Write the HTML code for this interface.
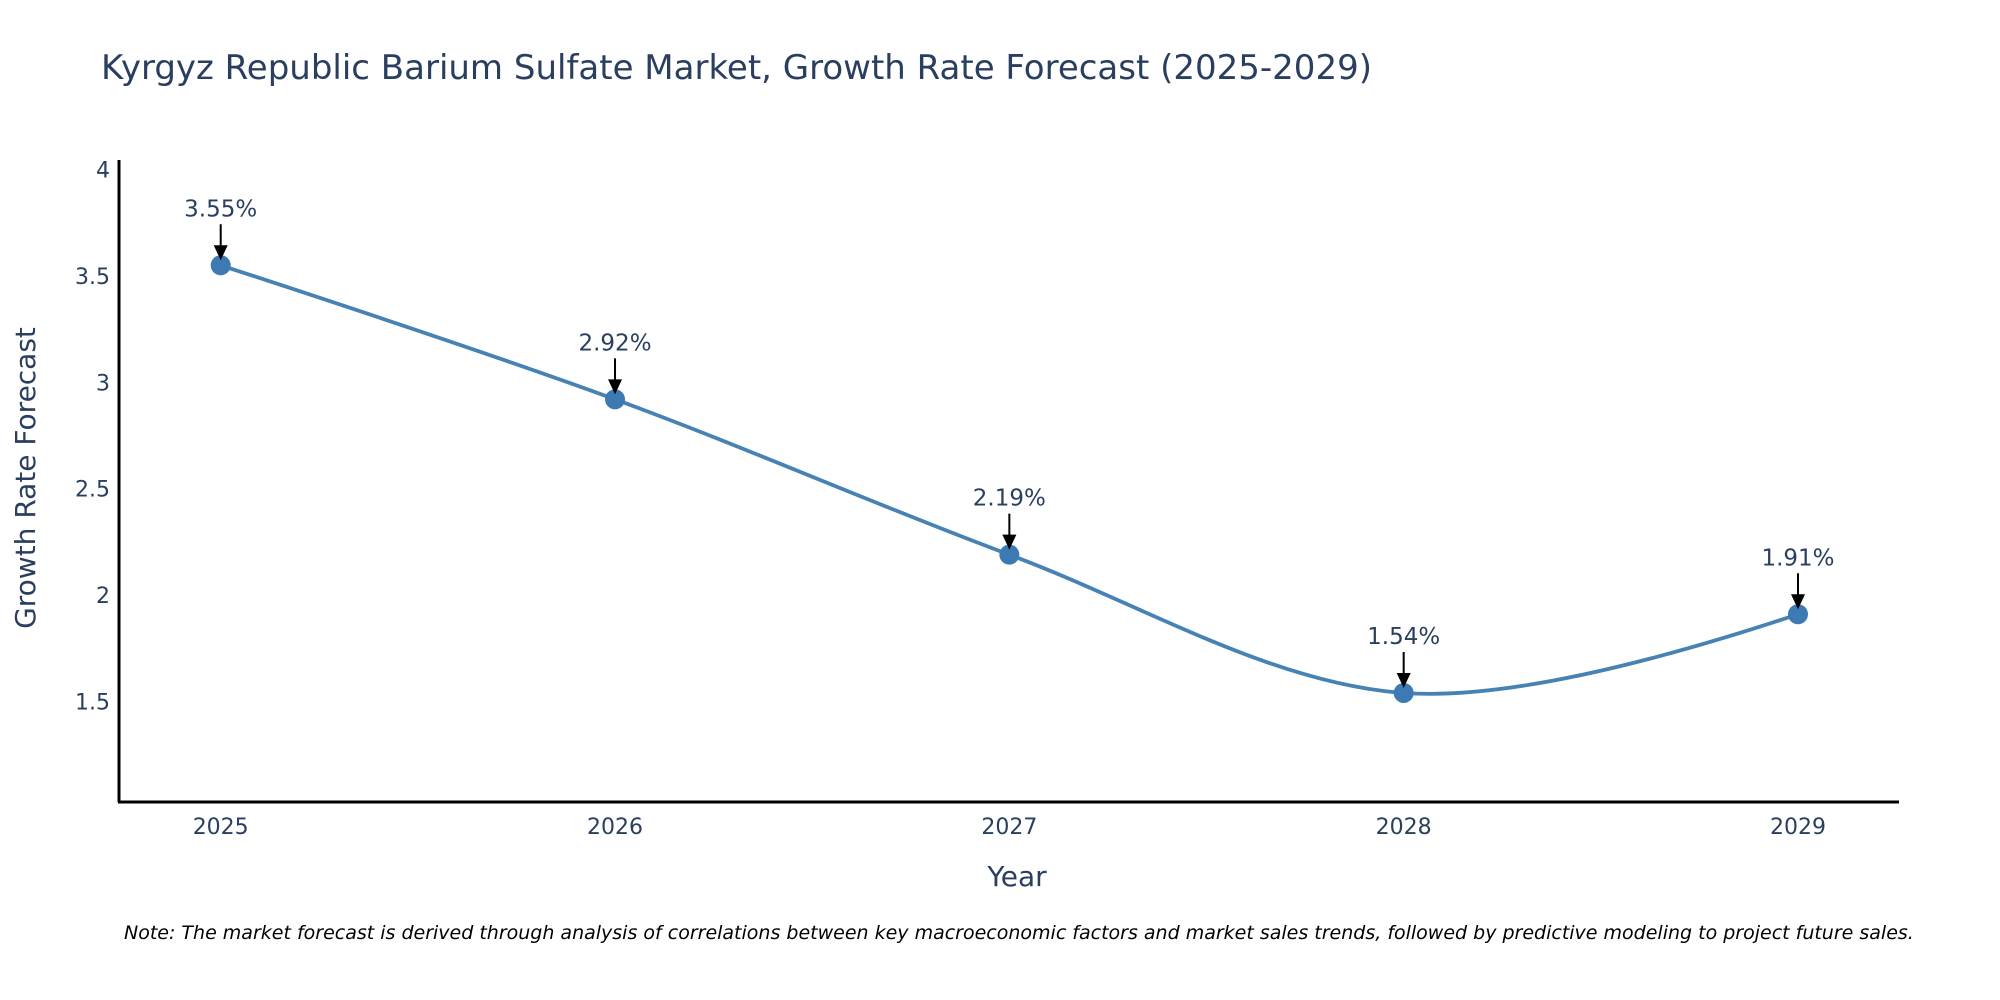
<!DOCTYPE html>
<html><head><meta charset="utf-8"><style>
html,body{margin:0;padding:0;background:#fff;}
svg{display:block;font-family:"DejaVu Sans","Liberation Sans",sans-serif;}
</style></head><body>
<svg id="chart" width="2000" height="1000" viewBox="0 0 2000 1000">
<text x="101" y="79" font-size="34" fill="#2a3f5f">Kyrgyz Republic Barium Sulfate Market, Growth Rate Forecast (2025-2029)</text>
<g id="yticks"></g>
<g id="xticks"></g>
<path id="line" fill="none" stroke="#4682b4" stroke-width="3.8"></path>
<g id="points"></g>
<g id="annos"></g>
<line x1="119" y1="160" x2="119" y2="802" stroke="#000" stroke-width="3"/>
<line x1="118" y1="802" x2="1899" y2="802" stroke="#000" stroke-width="3"/>
<text x="1017" y="886" font-size="28" fill="#2a3f5f" text-anchor="middle">Year</text>
<text transform="translate(35,478) rotate(-90)" font-size="28" fill="#2a3f5f" text-anchor="middle">Growth Rate Forecast</text>
<text x="124" y="939" font-size="19" font-style="italic" fill="#000">Note: The market forecast is derived through analysis of correlations between key macroeconomic factors and market sales trends, followed by predictive modeling to project future sales.</text>
</svg>
<script>
const years = [2025, 2026, 2027, 2028, 2029];
const rates = [3.55, 2.92, 2.19, 1.54, 1.91];
const yTickVals = [1.5, 2, 2.5, 3, 3.5, 4];
const yTickLabels = ["1.5", "2", "2.5", "3", "3.5", "4"];

const NS = "http://www.w3.org/2000/svg";
function xs(v){ return 220.7 + (v - 2025) * (1798 - 220.7) / 4; }
function ys(v){ return 701.5 - (v - 1.5) * 212.8; }
function mk(tag, attrs, parent, txt){
  const e = document.createElementNS(NS, tag);
  for (const k in attrs) e.setAttribute(k, attrs[k]);
  if (txt !== undefined) e.textContent = txt;
  parent.appendChild(e); return e;
}
const yt = document.getElementById('yticks');
yTickVals.forEach((v, i) => {
  const t = mk('text', {x: 110, y: ys(v) + 8, 'font-size': 22, fill: '#2a3f5f', 'text-anchor': 'end'}, yt, yTickLabels[i]);
  
  
});
const xt = document.getElementById('xticks');
years.forEach(y => {
  const t = mk('text', {x: xs(y), y: 834, 'font-size': 22, fill: '#2a3f5f', 'text-anchor': 'middle'}, xt, String(y));
  
  
});
const pts = years.map((y, i) => [xs(y), ys(rates[i])]);
function tangent(p, c, n, s){
  const d1x = p[0]-c[0], d1y = p[1]-c[1], d2x = n[0]-c[0], d2y = n[1]-c[1];
  const d1a = Math.pow(d1x*d1x + d1y*d1y, 0.25), d2a = Math.pow(d2x*d2x + d2y*d2y, 0.25);
  const numx = (d2a*d2a*d1x - d1a*d1a*d2x)*s, numy = (d2a*d2a*d1y - d1a*d1a*d2y)*s;
  const den1 = 3*d2a*(d1a+d2a), den2 = 3*d1a*(d1a+d2a);
  return [[c[0] + numx/den1, c[1] + numy/den1], [c[0] - numx/den2, c[1] - numy/den2]];
}
const tg = [];
for (let i = 1; i < pts.length - 1; i++) tg.push(tangent(pts[i-1], pts[i], pts[i+1], 1));
let d = 'M' + pts[0] + 'Q' + tg[0][0] + ' ' + pts[1];
for (let i = 2; i < pts.length - 1; i++) d += 'C' + tg[i-2][1] + ' ' + tg[i-1][0] + ' ' + pts[i];
d += 'Q' + tg[pts.length-3][1] + ' ' + pts[pts.length-1];
document.getElementById('line').setAttribute('d', d);

const pg = document.getElementById('points'), ag = document.getElementById('annos');
pts.forEach((p, i) => {
  const c = mk('circle', {cx: p[0], cy: p[1], r: 10, fill: '#3d7ab3'}, pg);
  
  
  const l = mk('line', {x1: p[0], y1: p[1] - 41, x2: p[0], y2: p[1] - 18, stroke: '#000', 'stroke-width': 2}, ag);
  
  
  const h = mk('polygon', {points: `${p[0]-7},${p[1]-20} ${p[0]+7},${p[1]-20} ${p[0]},${p[1]-5}`, fill: '#000'}, ag);
  
  
  const t = mk('text', {x: p[0], y: p[1] - 49, 'font-size': 23, fill: '#2a3f5f', 'text-anchor': 'middle'}, ag, rates[i].toFixed(2) + '%');
  
  
});
</script>
</body></html>
